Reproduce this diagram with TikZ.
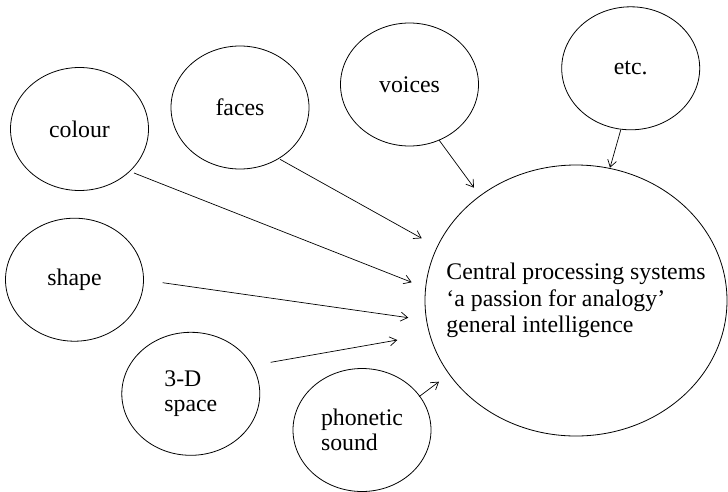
\documentclass[tikz,border=0pt]{standalone}
\usepackage{fontspec}
\setmainfont{Liberation Serif}
\usetikzlibrary{shapes.geometric,arrows.meta}
\begin{document}
\begin{tikzpicture}[x=1pt,y=-1pt,
  bubble/.style={draw, ellipse, line width=0.8pt, inner sep=0pt,
    minimum width=138pt, minimum height=123pt,
    font=\fontsize{23.8}{24.5}\selectfont, align=left},
  % negative xsep keeps the wide text from enlarging the ellipse
  hub/.style={bubble, inner xsep=-30pt, minimum width=302pt, minimum height=271pt,
    font=\fontsize{23.8}{26.3}\selectfont},
  feed/.style={line width=0.7pt, -{Straight Barb[length=7pt,width=9pt]}}]
\useasboundingbox (0,0) rectangle (728,491);

% input modules
\node[bubble] (colour)   at (79.5,129)  {colour};
\node[bubble] (faces)    at (240,107.5) {faces};
\node[bubble] (voices)   at (409.5,84.5) {voices};
\node[bubble] (etc)      at (630.7,68.3) {etc.};
\node[bubble] (shape)    at (74.5,279.7) {shape};
\node[bubble] (space)    at (190.8,393.8) {3-D\\space};
\node[bubble] (phonetic) at (362,430)   {phonetic\\sound};

% central system
\node[hub] (central) at (576,300.5)
  {Central processing systems\\`a passion for analogy'\\general intelligence};

% arrow end points
\coordinate (colour-out)   at (134,173);
\coordinate (colour-in)    at (411.7,282.3);
\coordinate (faces-out)    at (280,159.3);
\coordinate (faces-in)     at (421.7,238.3);
\coordinate (voices-out)   at (439,140);
\coordinate (voices-in)    at (474,187.7);
\coordinate (etc-out)      at (620.7,130);
\coordinate (etc-in)       at (610,167.7);
\coordinate (shape-out)    at (162.7,282.7);
\coordinate (shape-in)     at (408.3,317.7);
\coordinate (space-out)    at (270.7,362.3);
\coordinate (space-in)     at (397.3,340);
\coordinate (phonetic-out) at (419,396.7);
\coordinate (phonetic-in)  at (439,381.7);

\draw[feed] (colour-out)   -- (colour-in);
\draw[feed] (faces-out)    -- (faces-in);
\draw[feed] (voices-out)   -- (voices-in);
\draw[feed] (etc-out)      -- (etc-in);
\draw[feed] (shape-out)    -- (shape-in);
\draw[feed] (space-out)    -- (space-in);
\draw[feed] (phonetic-out) -- (phonetic-in);
\end{tikzpicture}
\end{document}
